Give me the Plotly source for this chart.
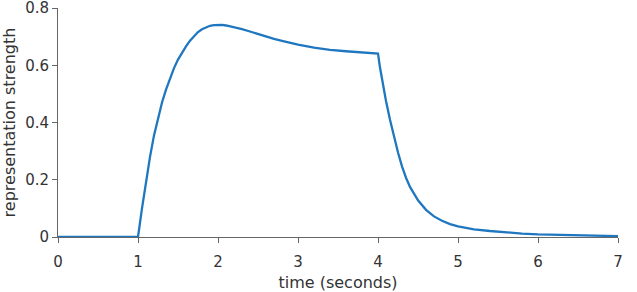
import plotly.graph_objects as go

time_s = [0, 1.0, 1.05, 1.1, 1.15, 1.2, 1.25, 1.3, 1.35, 1.4, 1.45, 1.5, 1.55, 1.6, 1.65, 1.7, 1.75, 1.8, 1.85, 1.9, 1.95,
          2.0, 2.05, 2.1, 2.2, 2.3, 2.4, 2.5, 2.6, 2.7, 2.8, 2.9, 3.0, 3.2, 3.4, 3.6, 3.8, 4.0,
          4.025, 4.05, 4.075, 4.1, 4.15, 4.2, 4.25, 4.3, 4.35, 4.4, 4.45, 4.5, 4.6, 4.7, 4.8, 4.9, 5.0,
          5.2, 5.4, 5.6, 5.8, 6.0, 6.25, 6.5, 6.75, 7.0]
strength = [0, 0, 0.10, 0.195, 0.28, 0.355, 0.418, 0.47, 0.515, 0.555, 0.59, 0.62, 0.645, 0.666, 0.686, 0.702, 0.716, 0.726, 0.733, 0.738, 0.740,
            0.741, 0.741, 0.739, 0.733, 0.726, 0.718, 0.709, 0.700, 0.692, 0.685, 0.678, 0.672, 0.662, 0.654, 0.649, 0.645, 0.641,
            0.592, 0.55, 0.51, 0.475, 0.41, 0.35, 0.295, 0.247, 0.207, 0.175, 0.149, 0.128, 0.095, 0.072, 0.057, 0.045, 0.037,
            0.027, 0.021, 0.016, 0.012, 0.009, 0.007, 0.005, 0.004, 0.003]

x_ticks = [0, 1, 2, 3, 4, 5, 6, 7]
y_ticks = [0, 0.2, 0.4, 0.6, 0.8]
y_tick_text = ["0", "0.2", "0.4", "0.6", "0.8"]

FONT = "DejaVu Sans"
TXT = "#333333"
AX = "#666666"

fig = go.Figure(go.Scatter(
    x=time_s, y=strength, mode="lines",
    line=dict(color="#1f77c0", width=2.3, shape="linear"),
    cliponaxis=False, hoverinfo="skip",
))

fig.update_layout(
    width=637, height=292,
    margin=dict(l=58, r=19, t=8, b=55, autoexpand=False),
    paper_bgcolor="white", plot_bgcolor="white",
    showlegend=False,
    font=dict(family=FONT, color=TXT, size=15),
    xaxis=dict(
        range=[0, 7], tickvals=x_ticks, showgrid=False, zeroline=False,
        showline=True, linecolor=AX, linewidth=1, automargin=False,
        ticks="outside", ticklen=5, tickcolor=AX, ticklabelstandoff=6,
        tickfont=dict(size=15, color=TXT), ticklabeloverflow="allow",
        title=dict(text="time (seconds)", font=dict(size=16, color=TXT), standoff=7),
    ),
    yaxis=dict(
        range=[0, 0.8001], tickvals=y_ticks, ticktext=y_tick_text, showgrid=False, zeroline=False,
        showline=True, linecolor=AX, linewidth=1, automargin=False,
        ticks="outside", ticklen=5, tickcolor=AX,
        tickfont=dict(size=15, color=TXT), ticklabeloverflow="allow",
        title=dict(text="representation strength", font=dict(size=16, color=TXT), standoff=6),
    ),
)

fig.write_html("out.html")
